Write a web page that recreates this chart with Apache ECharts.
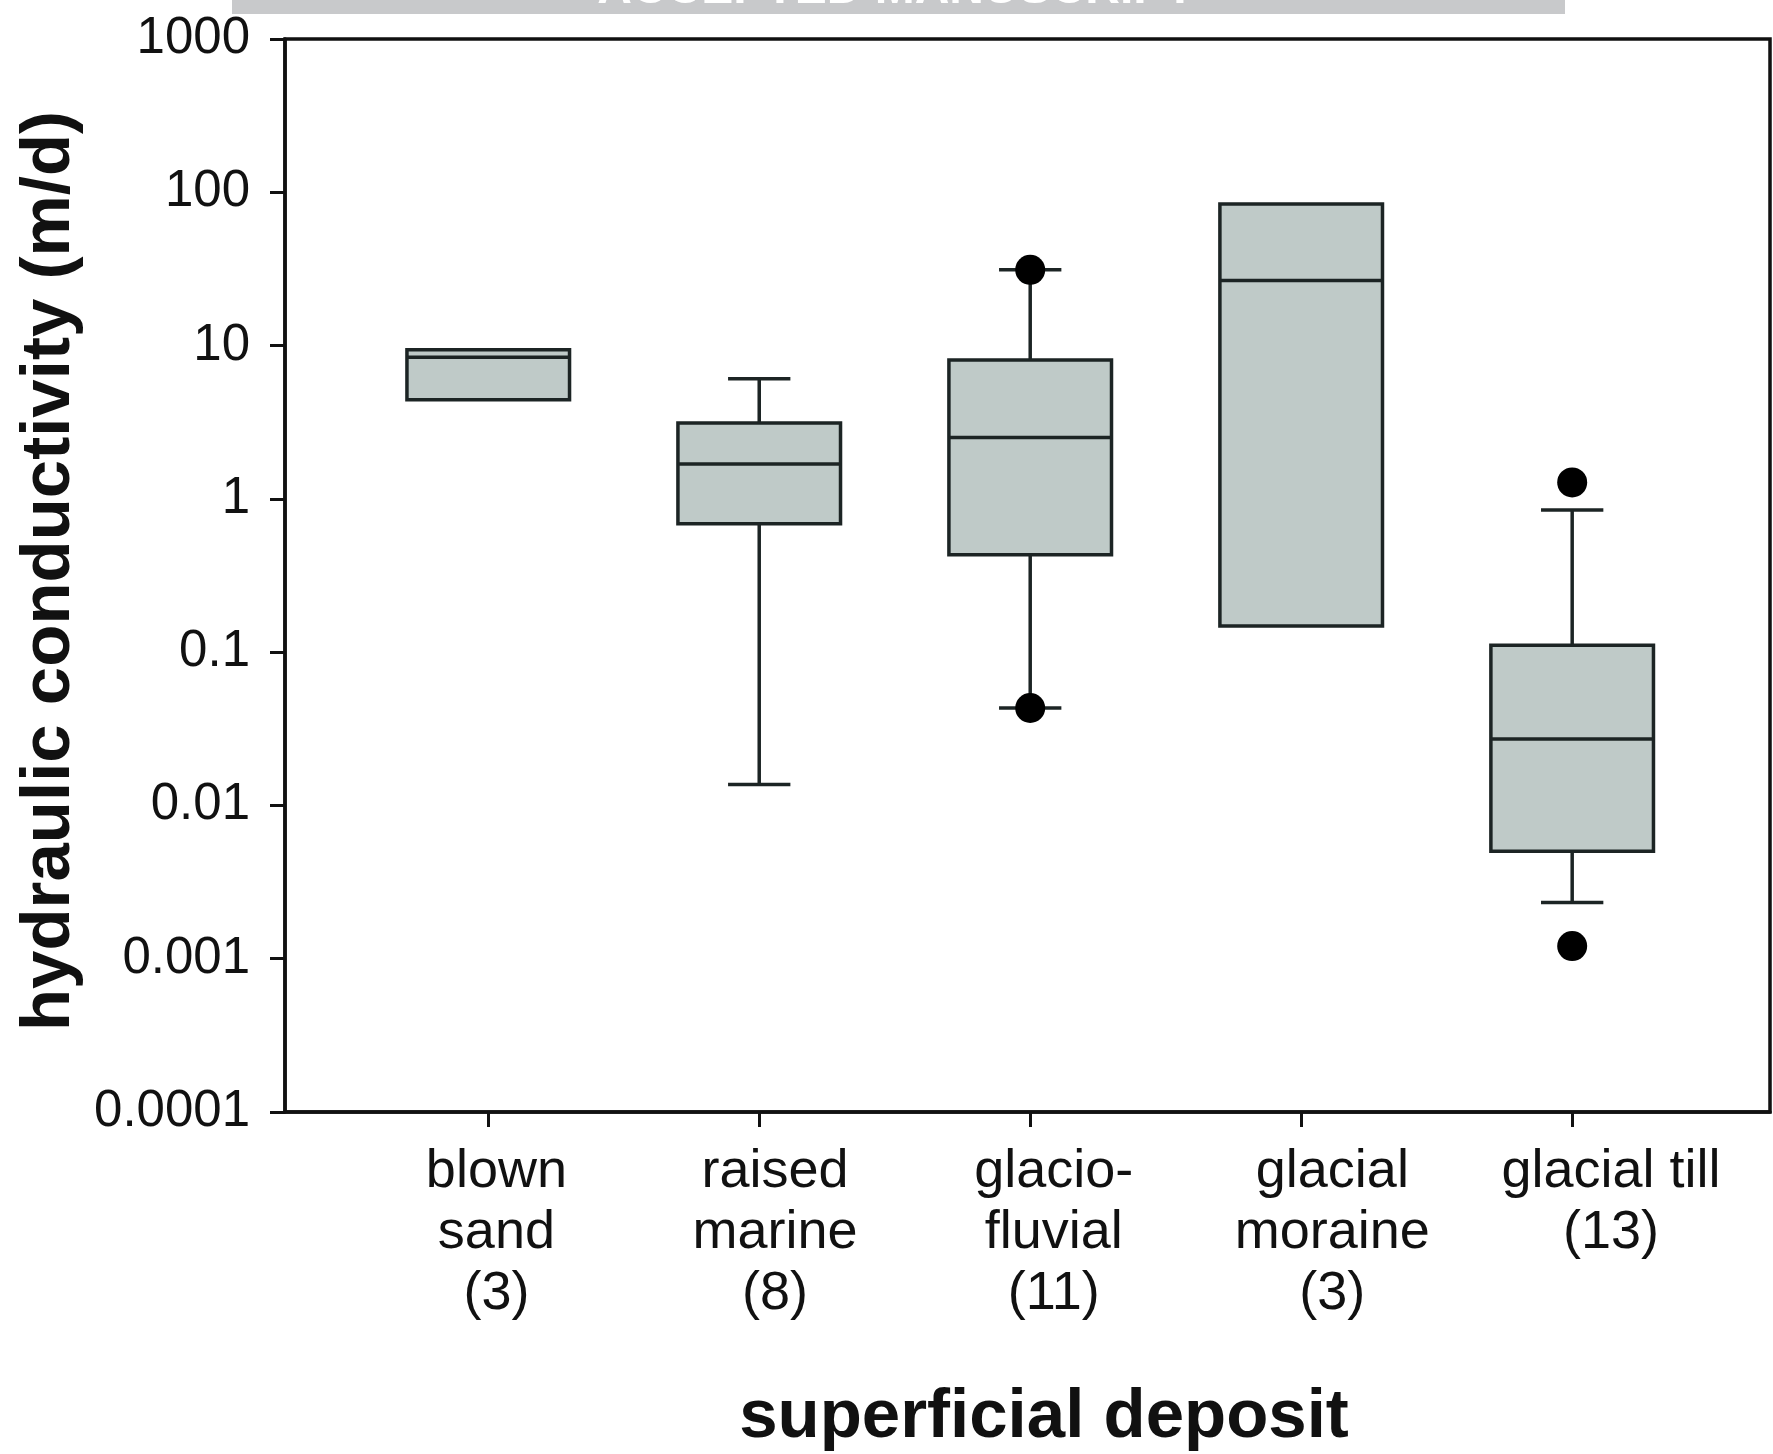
<!DOCTYPE html>
<html>
<head>
<meta charset="utf-8">
<title>Hydraulic conductivity by superficial deposit</title>
<script src="https://cdn.jsdelivr.net/npm/echarts@6/dist/echarts.min.js"></script>
<style>
  html, body { margin: 0; padding: 0; background: #ffffff; }
  #chart { width: 1773px; height: 1454px; }
</style>
</head>
<body>
<div id="chart"></div>
<script>
// Deposit classes (sample count in brackets)
const categories = ['blown\nsand\n(3)', 'raised\nmarine\n(8)', 'glacio-\nfluvial\n(11)', 'glacial\nmoraine\n(3)', 'glacial till\n(13)'];
const categoryPositions = [1, 2, 3, 4, 5];

// Box statistics, hydraulic conductivity in m/d (null = no whisker drawn)
const lowerWhisker = [null, 0.0137, 0.0432, null, 0.00233];
const lowerQuartile = [4.43, 0.688, 0.432, 0.148, 0.00503];
const medianValue = [8.40, 1.69, 2.51, 26.6, 0.0271];
const upperQuartile = [9.39, 3.12, 8.04, 84.0, 0.111];
const upperWhisker = [null, 6.07, 31.2, null, 0.845];

// Points beyond the whiskers: [category position, value]
const outlierPoints = [[3, 31.2], [3, 0.0432], [5, 1.28], [5, 0.00121]];

// Logarithmic y-axis ticks
const yTickValues = [0.0001, 0.001, 0.01, 0.1, 1, 10, 100, 1000];
const yTickLabels = ['0.0001', '0.001', '0.01', '0.1', '1', '10', '100', '1000'];

const FONT = '"Liberation Sans", Arial, Helvetica, sans-serif';
const INK = '#111111';
const BOX_FILL = '#bfcac8';
const BOX_LINE = '#1c2424';

const boxData = categoryPositions.map((x, i) => [
  x, lowerWhisker[i], lowerQuartile[i], medianValue[i], upperQuartile[i], upperWhisker[i]
]);

function renderBox(params, api) {
  const x = api.value(0);
  const lw = api.value(1);
  const q1 = api.value(2);
  const med = api.value(3);
  const q3 = api.value(4);
  const uw = api.value(5);
  const boxW = api.size([0.6, 0])[0];
  const capW = api.size([0.23, 0])[0];
  const pQ1 = api.coord([x, q1]);
  const pQ3 = api.coord([x, q3]);
  const pMed = api.coord([x, med]);
  const cx = pQ1[0];
  const lineStyle = { stroke: BOX_LINE, lineWidth: 3.5, fill: null };
  const children = [];

  if (uw != null && !isNaN(uw)) {
    const pU = api.coord([x, uw]);
    children.push({ type: 'line', shape: { x1: cx, y1: pQ3[1], x2: cx, y2: pU[1] }, style: lineStyle });
    children.push({ type: 'line', shape: { x1: cx - capW / 2, y1: pU[1], x2: cx + capW / 2, y2: pU[1] }, style: lineStyle });
  }
  if (lw != null && !isNaN(lw)) {
    const pL = api.coord([x, lw]);
    children.push({ type: 'line', shape: { x1: cx, y1: pQ1[1], x2: cx, y2: pL[1] }, style: lineStyle });
    children.push({ type: 'line', shape: { x1: cx - capW / 2, y1: pL[1], x2: cx + capW / 2, y2: pL[1] }, style: lineStyle });
  }
  children.push({
    type: 'rect',
    shape: { x: cx - boxW / 2, y: pQ3[1], width: boxW, height: pQ1[1] - pQ3[1] },
    style: { fill: BOX_FILL, stroke: BOX_LINE, lineWidth: 3.5 }
  });
  children.push({
    type: 'line',
    shape: { x1: cx - boxW / 2, y1: pMed[1], x2: cx + boxW / 2, y2: pMed[1] },
    style: lineStyle
  });
  return { type: 'group', children: children };
}

const chart = echarts.init(document.getElementById('chart'), null, { renderer: 'canvas' });

chart.setOption({
  animation: false,
  backgroundColor: '#ffffff',
  textStyle: { fontFamily: FONT },
  grid: {
    left: 285, right: 3, top: 39, bottom: 342,
    show: true, borderColor: INK, borderWidth: 3.5, backgroundColor: 'transparent'
  },
  xAxis: [
    {
      type: 'value',
      min: 0.25,
      max: 5.73,
      position: 'bottom',
      axisLine: { show: true, lineStyle: { color: INK, width: 3.5 } },
      axisTick: { show: true, length: 15, inside: false, lineStyle: { color: INK, width: 3 }, customValues: categoryPositions },
      axisLabel: { show: false },
      splitLine: { show: false }
    },
    {
      // carries the category names under the ticks
      type: 'value',
      min: 0.2413,
      max: 5.5707,
      position: 'bottom',
      axisLine: { show: false },
      axisTick: { show: false },
      splitLine: { show: false },
      axisLabel: {
        show: true,
        customValues: categoryPositions,
        formatter: (v) => categories[Math.round(v) - 1],
        fontFamily: FONT,
        fontSize: 54,
        lineHeight: 61,
        color: INK,
        margin: 30,
        align: 'center',
        verticalAlign: 'top'
      }
    }
  ],
  yAxis: {
    type: 'log',
    logBase: 10,
    min: 0.0001,
    max: 1000,
    axisLine: { show: true, lineStyle: { color: INK, width: 3.5 } },
    axisTick: { show: true, length: 15, inside: false, lineStyle: { color: INK, width: 3 }, customValues: yTickValues },
    axisLabel: {
      customValues: yTickValues,
      formatter: (v) => yTickLabels[Math.round(Math.log10(v)) + 4],
      fontFamily: FONT,
      fontSize: 51,
      color: INK,
      margin: 35
    },
    splitLine: { show: false }
  },
  graphic: [
    {
      type: 'rect',
      shape: { x: 232, y: 0, width: 1333, height: 14 },
      style: { fill: '#c8c9cb' }
    },
    {
      type: 'text',
      x: 896, y: -10,
      style: {
        text: 'ACCEPTED MANUSCRIPT',
        font: 'bold 48px ' + FONT,
        fill: '#ffffff',
        textAlign: 'center',
        textVerticalAlign: 'middle'
      }
    },
    {
      type: 'text',
      x: 50, y: 571,
      rotation: Math.PI / 2,
      style: {
        text: 'hydraulic conductivity (m/d)',
        font: 'bold 69px ' + FONT,
        fill: INK,
        textAlign: 'center',
        textVerticalAlign: 'middle'
      }
    },
    {
      type: 'text',
      x: 1044, y: 1418,
      style: {
        text: 'superficial deposit',
        font: 'bold 69px ' + FONT,
        fill: INK,
        textAlign: 'center',
        textVerticalAlign: 'middle'
      }
    }
  ],
  series: [
    {
      type: 'custom',
      name: 'hydraulic conductivity',
      xAxisIndex: 0,
      yAxisIndex: 0,
      renderItem: renderBox,
      encode: { x: 0, y: [2, 3, 4] },
      data: boxData,
      z: 2
    },
    {
      type: 'scatter',
      name: 'outliers',
      xAxisIndex: 0,
      yAxisIndex: 0,
      symbol: 'circle',
      symbolSize: 30,
      itemStyle: { color: '#000000', opacity: 1 },
      data: outlierPoints,
      z: 3
    }
  ]
});
</script>
</body>
</html>
